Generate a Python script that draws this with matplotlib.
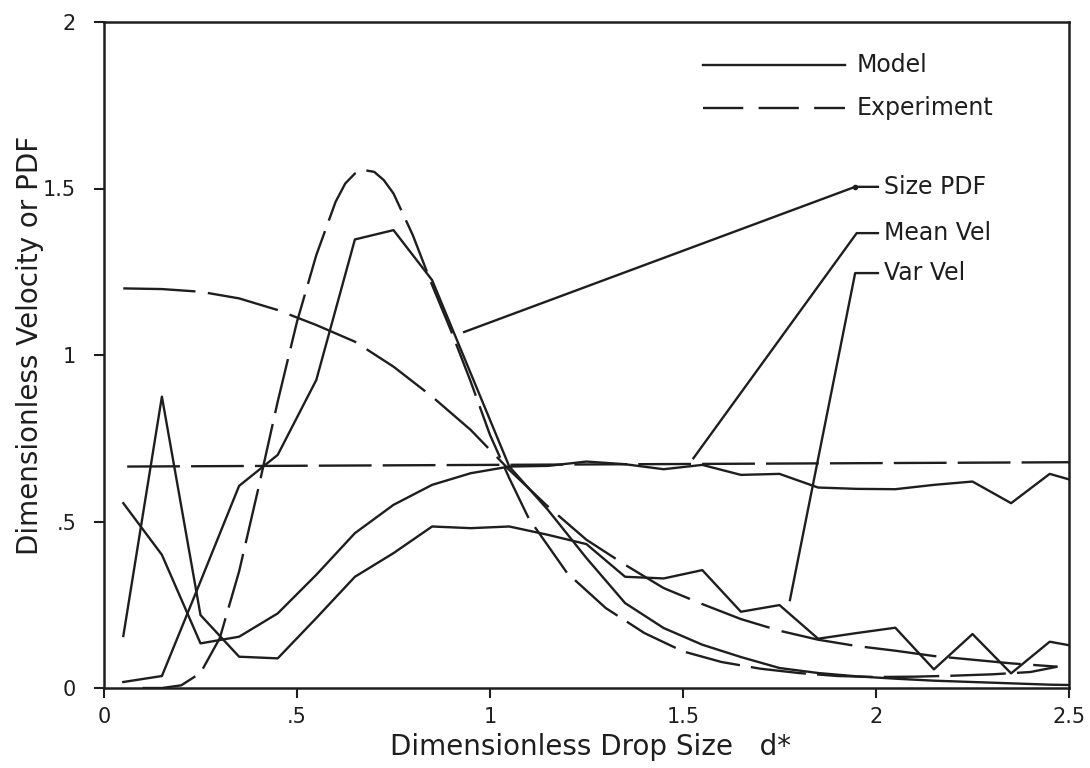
import matplotlib
matplotlib.use('Agg')
import matplotlib.pyplot as plt

plt.rcParams['font.family'] = ['DejaVu Sans']
plt.rcParams['lines.scale_dashes'] = False

INK = '#1e1e1e'

# model output, one value per size class (class centres)
d_model = [0.05, 0.15, 0.25, 0.35, 0.45, 0.55, 0.65, 0.75, 0.85, 0.95,
           1.05, 1.15, 1.25, 1.35, 1.45, 1.55, 1.65, 1.75, 1.85, 1.95,
           2.05, 2.15, 2.25, 2.35, 2.45, 2.55]
pdf_model = [0.018, 0.036, 0.32, 0.607, 0.70, 0.925, 1.347, 1.375, 1.225, 0.945,
             0.665, 0.535, 0.39, 0.255, 0.18, 0.13, 0.093, 0.06, 0.045, 0.035,
             0.028, 0.022, 0.018, 0.014, 0.01, 0.008]
mean_model = [0.555, 0.40, 0.134, 0.154, 0.224, 0.34, 0.465, 0.55, 0.61, 0.645,
              0.665, 0.667, 0.68, 0.672, 0.657, 0.67, 0.64, 0.643, 0.602, 0.598,
              0.597, 0.61, 0.62, 0.555, 0.643, 0.61]
var_model = [0.156, 0.875, 0.219, 0.094, 0.089, 0.21, 0.334, 0.405, 0.485, 0.48,
             0.485, 0.46, 0.432, 0.334, 0.329, 0.354, 0.229, 0.249, 0.148, 0.165,
             0.181, 0.056, 0.162, 0.044, 0.139, 0.118]

# experimental curves
d_pdf_exp = [0.10, 0.15, 0.20, 0.25, 0.30, 0.35, 0.40, 0.45, 0.50, 0.55,
             0.60, 0.625, 0.65, 0.675, 0.70, 0.725, 0.75, 0.80, 0.85, 0.90,
             0.95, 1.00, 1.05, 1.10, 1.20, 1.30, 1.40, 1.50, 1.60, 1.70,
             1.80, 1.90, 2.00, 2.10, 2.20, 2.30, 2.40, 2.47]
pdf_exp = [0.0, 0.0, 0.008, 0.045, 0.15, 0.35, 0.60, 0.86, 1.10, 1.30,
           1.46, 1.515, 1.545, 1.555, 1.55, 1.525, 1.485, 1.36, 1.21, 1.07,
           0.92, 0.76, 0.63, 0.51, 0.345, 0.24, 0.165, 0.11, 0.078, 0.058,
           0.045, 0.036, 0.033, 0.034, 0.037, 0.041, 0.048, 0.064]

d_mean_exp = [0.06, 2.5]
mean_exp = [0.665, 0.678]

d_var_exp = [0.05, 0.15, 0.25, 0.35, 0.45, 0.55, 0.65, 0.75, 0.85, 0.95,
             1.05, 1.15, 1.25, 1.35, 1.45, 1.55, 1.65, 1.75, 1.85, 1.95,
             2.05, 2.15, 2.25, 2.35, 2.47]
var_exp = [1.20, 1.198, 1.19, 1.17, 1.135, 1.09, 1.04, 0.965, 0.875, 0.775,
           0.655, 0.545, 0.445, 0.37, 0.30, 0.252, 0.207, 0.172, 0.145, 0.126,
           0.112, 0.096, 0.085, 0.074, 0.064]

x_ticks = [0, 0.5, 1, 1.5, 2, 2.5]
x_ticklabels = ['0', '.5', '1', '1.5', '2', '2.5']
y_ticks = [0, 0.5, 1, 1.5, 2]
y_ticklabels = ['0', '.5', '1', '1.5', '2']

# callouts: label, (tip x, tip y), (elbow x, y)
callouts = [('Size PDF', (0.933, 1.069), (1.946, 1.505)),
            ('Mean Vel', (1.527, 0.690), (1.950, 1.366)),
            ('Var Vel', (1.777, 0.264), (1.946, 1.246))]

fig = plt.figure(figsize=(10.9, 7.68), dpi=100)
ax = fig.add_axes([104 / 1090, 80 / 768, 965 / 1090, 666 / 768])

lw = 1.7
ax.plot(d_model, pdf_model, color=INK, lw=lw)
ax.plot(d_model, mean_model, color=INK, lw=lw)
ax.plot(d_model, var_model, color=INK, lw=lw)

ax.plot(d_pdf_exp, pdf_exp, color=INK, lw=lw, linestyle=(0, (40, 8)))
ax.plot(d_mean_exp, mean_exp, color=INK, lw=lw, linestyle=(0, (38, 8)))
ax.plot(d_var_exp, var_exp, color=INK, lw=lw, linestyle=(0, (52, 9)))

# key in the upper right
ax.plot([1.552, 1.92], [1.871, 1.871], color=INK, lw=lw)
ax.plot([1.552, 1.92], [1.741, 1.741], color=INK, lw=lw, linestyle=(0, (29, 11)))
ax.text(1.951, 1.871, 'Model', fontsize=17, color=INK, va='center', ha='left')
ax.text(1.951, 1.741, 'Experiment', fontsize=17, color=INK, va='center', ha='left')

for label, tip, elbow in callouts:
    ax.plot([tip[0], elbow[0], 2.005], [tip[1], elbow[1], elbow[1]], color=INK, lw=lw)
    ax.text(2.02, elbow[1], label, fontsize=17, color=INK, va='center', ha='left')
ax.plot([callouts[0][2][0]], [callouts[0][2][1]], 'o', color=INK, ms=3)

ax.set_xlim(0, 2.5)
ax.set_ylim(0, 2)
ax.set_xticks(x_ticks)
ax.set_xticklabels(x_ticklabels)
ax.set_yticks(y_ticks)
ax.set_yticklabels(y_ticklabels)
ax.tick_params(direction='out', length=7, width=1.5, colors=INK, labelsize=15)
ax.tick_params(axis='x', pad=7)
ax.tick_params(axis='y', pad=13)
for side in ax.spines.values():
    side.set_linewidth(1.8)
    side.set_color(INK)

fig.text(591 / 1090, 1 - 755 / 768, 'Dimensionless Drop Size   d*', fontsize=20,
         color=INK, ha='center', va='baseline')
fig.text(30 / 1090, 1 - 345 / 768, 'Dimensionless Velocity or PDF', fontsize=20,
         color=INK, ha='center', va='center', rotation=90)

fig.savefig('out.png', dpi=100)
